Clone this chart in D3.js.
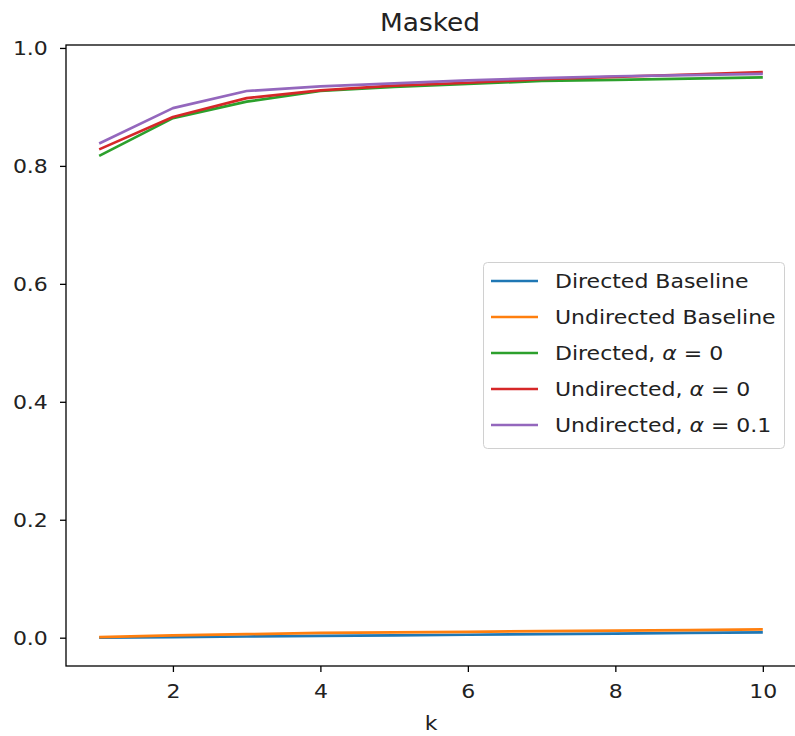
<!DOCTYPE html>
<html>
<head>
<meta charset="utf-8">
<script src="https://cdn.jsdelivr.net/npm/d3@7"></script>
<style>
  body { margin: 0; background: #fff; }
  svg { display: block; font-family: "DejaVu Sans", sans-serif; }
</style>
</head>
<body>
<script>
// data
var ks = [1, 2, 3, 4, 5, 6, 7, 8, 9, 10];
var directedBaseline   = [0.000, 0.001, 0.002, 0.003, 0.004, 0.005, 0.006, 0.007, 0.008, 0.009];
var undirectedBaseline = [0.001, 0.004, 0.006, 0.008, 0.009, 0.010, 0.011, 0.012, 0.013, 0.014];
var directedA0         = [0.817, 0.881, 0.909, 0.927, 0.934, 0.939, 0.944, 0.946, 0.948, 0.950];
var undirectedA0       = [0.828, 0.883, 0.915, 0.928, 0.936, 0.941, 0.947, 0.951, 0.955, 0.959];
var undirectedA01      = [0.838, 0.898, 0.927, 0.935, 0.940, 0.945, 0.949, 0.952, 0.954, 0.956];
var seriesNames = ["Directed Baseline", "Undirected Baseline", "Directed, α = 0", "Undirected, α = 0", "Undirected, α = 0.1"];
var xTicks = [2, 4, 6, 8, 10];
var yTicks = [0.0, 0.2, 0.4, 0.6, 0.8, 1.0];

var colors = ["#1f77b4", "#ff7f0e", "#2ca02c", "#d62728", "#9467bd"];
var allSeries = [directedBaseline, undirectedBaseline, directedA0, undirectedA0, undirectedA01];

var W = 795, H = 736;
var plotL = 66, plotR = 796, plotT = 45, plotB = 666;
var stretch = 1.1; // text in the picture is a bit wide

var svg = d3.select("body").append("svg")
    .attr("width", W)
    .attr("height", H);

var x = d3.scaleLinear().domain([0.55, 10.45]).range([plotL, plotR]);
var y = d3.scaleLinear().domain([-0.048, 1.005]).range([plotB, plotT]);

// lines
var line = d3.line()
    .x(function(d, i) { return x(ks[i]); })
    .y(function(d) { return y(d); });

svg.selectAll(".series")
    .data(allSeries)
    .enter()
    .append("path")
    .attr("class", "series")
    .attr("fill", "none")
    .attr("stroke", function(d, i) { return colors[i]; })
    .attr("stroke-width", 2.7)
    .attr("stroke-linejoin", "round")
    .attr("d", line);

// axes
var xAxis = d3.axisBottom(x).tickValues(xTicks).tickSize(6).tickPadding(12)
    .tickFormat(d3.format("d"));
var yAxis = d3.axisLeft(y).tickValues(yTicks).tickSize(6).tickPadding(10.5)
    .tickFormat(d3.format(".1f"));

var gx = svg.append("g")
    .attr("transform", "translate(0," + plotB + ")")
    .call(xAxis);
var gy = svg.append("g")
    .attr("transform", "translate(" + plotL + ",0)")
    .call(yAxis);

[gx, gy].forEach(function(g) {
  g.select(".domain").remove();
  g.selectAll("line").attr("stroke", "#000").attr("stroke-width", 1.3);
  g.selectAll("text").attr("font-size", "20px").attr("fill", "#222")
      .attr("font-family", "DejaVu Sans, sans-serif")
      .attr("transform", "scale(" + stretch + ",1)");
});

// frame
svg.append("rect")
    .attr("x", plotL)
    .attr("y", plotT)
    .attr("width", plotR - plotL)
    .attr("height", plotB - plotT)
    .attr("fill", "none")
    .attr("stroke", "#000")
    .attr("stroke-width", 1.3);

// title and axis label
svg.append("text")
    .attr("transform", "translate(" + 430 + ",31) scale(" + stretch + ",1)")
    .attr("text-anchor", "middle")
    .attr("font-size", "24px")
    .attr("fill", "#222")
    .text("Masked");

svg.append("text")
    .attr("transform", "translate(" + 431 + ",730) scale(" + stretch + ",1)")
    .attr("text-anchor", "middle")
    .attr("font-size", "20px")
    .attr("fill", "#222")
    .text("k");

// legend
var legend = svg.append("g");
legend.append("rect")
    .attr("x", 483.5)
    .attr("y", 262.5)
    .attr("width", 301)
    .attr("height", 186)
    .attr("rx", 4)
    .attr("fill", "#fff")
    .attr("fill-opacity", 0.8)
    .attr("stroke", "#d0d0d0")
    .attr("stroke-width", 1);

var rowY = d3.scaleLinear().domain([0, 4]).range([281, 425]);

var items = legend.selectAll(".item")
    .data(seriesNames)
    .enter()
    .append("g")
    .attr("class", "item")
    .attr("transform", function(d, i) { return "translate(0," + rowY(i) + ")"; });

items.append("line")
    .attr("x1", 491)
    .attr("x2", 538)
    .attr("stroke", function(d, i) { return colors[i]; })
    .attr("stroke-width", 2.7);

items.append("text")
    .attr("transform", "translate(555,7) scale(" + stretch + ",1)")
    .attr("font-size", "20px")
    .attr("fill", "#222")
    .each(function(d) {
      var t = d3.select(this);
      var parts = d.split("α");
      if (parts.length === 1) { t.text(d); return; }
      t.append("tspan").text(parts[0]);
      t.append("tspan").attr("font-style", "italic").text("α");
      t.append("tspan").text(parts[1]);
    });
</script>
</body>
</html>
